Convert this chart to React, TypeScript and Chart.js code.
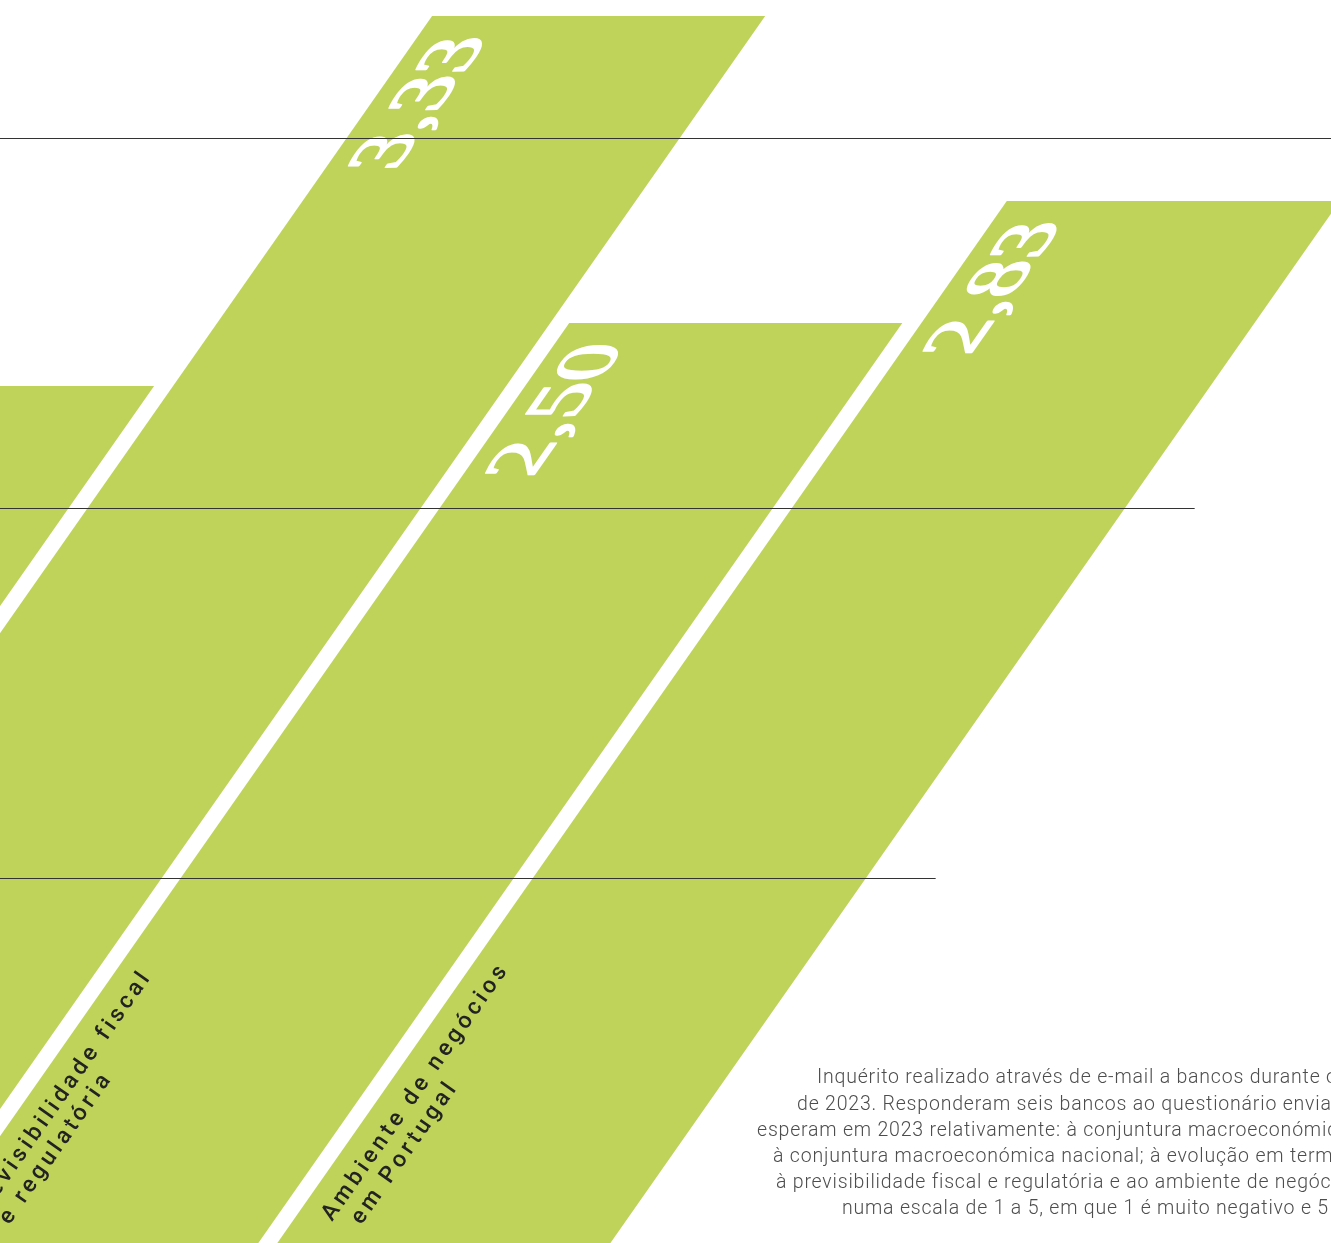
import React, { useEffect, useRef } from "react";
import { Chart, registerables } from "chart.js";

Chart.register(...registerables);

// ---- data ----
const categories = [
  "Conjuntura macroeconómica nacional",
  "Evolução em termos de rendibilidade",
  "Previsibilidade fiscal e regulatória",
  "Ambiente de negócios em Portugal",
];
const categoryLines: string[][] = [
  ["Conjuntura macroeconómica", "nacional"],
  ["Evolução em termos", "de rendibilidade"],
  ["Previsibilidade fiscal", "e regulatória"],
  ["Ambiente de negócios", "em Portugal"],
];
const values = [2.33, 3.33, 2.5, 2.83];
const valueLabels = values.map((v) => v.toFixed(2).replace(".", ","));
const yMin = 0;
const yMax = 4;
const yStep = 1;

const footnoteLines = [
  "Inquérito realizado através de e-mail a bancos durante o mês de janeiro",
  "de 2023. Responderam seis bancos ao questionário enviado sobre o que",
  "esperam em 2023 relativamente: à conjuntura macroeconómica internacional;",
  "à conjuntura macroeconómica nacional; à evolução em termos de rendibilidade;",
  "à previsibilidade fiscal e regulatória e ao ambiente de negócios em Portugal,",
  "numa escala de 1 a 5, em que 1 é muito negativo e 5 é muito positivo.",
];
const footnoteLefts = [817, 797, 757, 773, 776, 842];

// ---- style / layout ----
const SHEAR = 0.7;
const GREEN = "#bfd35b";
const AREA_W = 1469;
const EXTRA_RIGHT = 1100;
const CANVAS_W = AREA_W + EXTRA_RIGHT;
const CANVAS_H = 1480;
const CHART_LEFT_SCREEN = -791.6;
const BASELINE_SCREEN = 1248;

export default function App() {
  const ref = useRef<HTMLCanvasElement | null>(null);

  useEffect(() => {
    const canvas = ref.current!;
    const shearPlugin = {
      id: "shearPlugin",
      beforeDraw(chart: any) {
        const ctx = chart.ctx;
        const y0 = chart.scales.y.getPixelForValue(0);
        ctx.save();
        ctx.transform(1, 0, -SHEAR, 1, SHEAR * y0, 0);
      },
      afterDatasetsDraw(chart: any) {
        const ctx = chart.ctx;
        const meta = chart.getDatasetMeta(0);
        ctx.save();
        ctx.fillStyle = "#ffffff";
        ctx.font = "77px 'Liberation Serif', 'DejaVu Serif', serif";
        ctx.textAlign = "right";
        ctx.textBaseline = "alphabetic";
        meta.data.forEach((bar: any, i: number) => {
          const { x, y, width } = bar.getProps(["x", "y", "width"], true);
          const left = x - width / 2;
          ctx.save();
          ctx.translate(left + 71, y + 20);
          ctx.rotate(-Math.PI / 2);
          ctx.fillText(valueLabels[i], 0, 0);
          ctx.strokeStyle = "#ffffff";
          ctx.lineWidth = 2;
          ctx.lineJoin = "round";
          ctx.strokeText(valueLabels[i], 0, 0);
          ctx.restore();
        });
        ctx.restore();
      },
      afterDraw(chart: any) {
        const ctx = chart.ctx;
        ctx.restore();
        const y0 = chart.scales.y.getPixelForValue(0);
        const meta = chart.getDatasetMeta(0);
        const ang = -Math.atan2(1, SHEAR);
        ctx.save();
        ctx.fillStyle = "#222222";
        ctx.font = "500 23px Roboto, 'Noto Sans', sans-serif";
        (ctx as any).letterSpacing = "4px";
        ctx.textAlign = "left";
        ctx.textBaseline = "alphabetic";
        meta.data.forEach((bar: any, i: number) => {
          const { x, width } = bar.getProps(["x", "width"], true);
          const left = x - width / 2;
          const ux = left + 40;
          const uy = y0 - 26;
          const sx = ux + SHEAR * (y0 - uy);
          ctx.save();
          ctx.translate(sx, uy);
          ctx.rotate(ang);
          categoryLines[i].forEach((ln, j) => {
            ctx.fillText(ln, j * 14, j * 26);
          });
          ctx.restore();
        });
        ctx.restore();
      },
    };

    const chart = new Chart(canvas, {
      type: "bar",
      data: {
        labels: categories,
        datasets: [
          {
            data: values.map((v, i) => ({ x: i, y: v })) as any,
            backgroundColor: GREEN,
            borderWidth: 0,
            barPercentage: 1,
            categoryPercentage: 333 / 352,
          },
        ],
      },
      options: {
        responsive: false,
        animation: false,
        devicePixelRatio: 1,
        layout: { padding: { left: 0, top: 0, bottom: 0, right: EXTRA_RIGHT } },
        plugins: {
          legend: { display: false },
          tooltip: { enabled: false },
        },
        scales: {
          x: {
            type: "linear",
            min: -0.5,
            max: 3.672,
            offset: false,
            display: false,
            ticks: { stepSize: 1, includeBounds: false },
          },
          y: {
            min: yMin,
            max: yMax,
            ticks: { display: false, stepSize: yStep },
            grid: { color: "#333333", lineWidth: 1, drawTicks: false, z: 1 },
            border: { display: false },
          },
        },
      } as any,
      plugins: [shearPlugin],
    });

    const ca = chart.chartArea;
    canvas.style.left = `${CHART_LEFT_SCREEN - ca.left}px`;
    canvas.style.top = `${BASELINE_SCREEN - chart.scales.y.getPixelForValue(0)}px`;

    return () => chart.destroy();
  }, []);

  return (
    <div
      style={{
        position: "absolute",
        left: 0,
        top: 0,
        width: 1331,
        height: 1243,
        overflow: "hidden",
        background: "#ffffff",
      }}
    >
      <canvas
        ref={ref}
        width={CANVAS_W}
        height={CANVAS_H}
        style={{ position: "absolute", width: CANVAS_W, height: CANVAS_H }}
      />
      {footnoteLines.map((ln, i) => (
        <div
          key={i}
          style={{
            position: "absolute",
            left: footnoteLefts[i],
            top: 1064.3 + i * 26.2,
            whiteSpace: "nowrap",
            fontFamily: "Roboto, 'Noto Sans', sans-serif",
            fontWeight: 300,
            fontSize: "19.5px",
            letterSpacing: "0.8px",
            lineHeight: "26px",
            color: "#4d4d4d",
          }}
        >
          {ln}
        </div>
      ))}
    </div>
  );
}
